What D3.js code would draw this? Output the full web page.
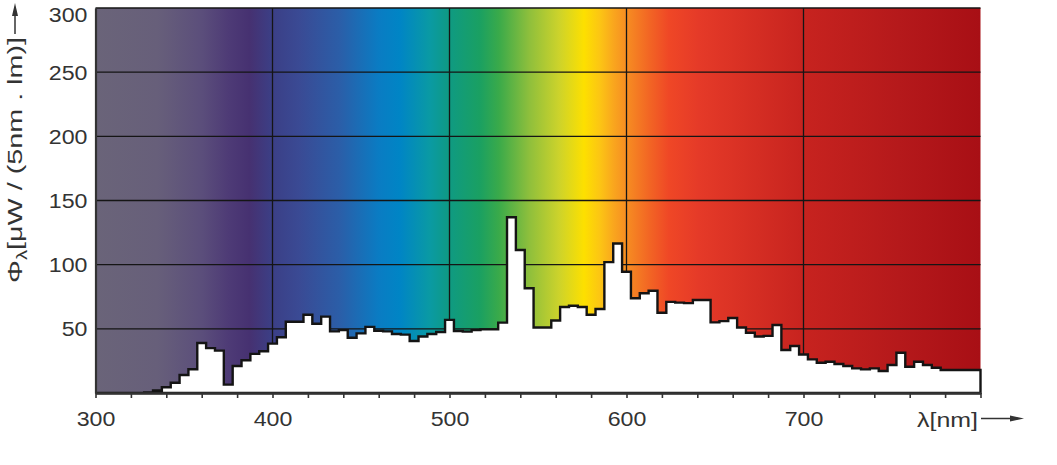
<!DOCTYPE html>
<html>
<head>
<meta charset="utf-8">
<script src="https://cdn.jsdelivr.net/npm/d3@7"></script>
<style>
  body { margin: 0; background: #fff; }
  svg { display: block; font-family: "Liberation Sans", Arial, sans-serif; }
</style>
</head>
<body>
<div id="chart-area"></div>
<script>
// Spectral power distribution, 5 nm bins (centre wavelength)
var wavelengths = [
  300, 305, 310, 315, 320, 325, 330, 335, 340, 345,
  350, 355, 360, 365, 370, 375, 380, 385, 390, 395,
  400, 405, 410, 415, 420, 425, 430, 435, 440, 445,
  450, 455, 460, 465, 470, 475, 480, 485, 490, 495,
  500, 505, 510, 515, 520, 525, 530, 535, 540, 545,
  550, 555, 560, 565, 570, 575, 580, 585, 590, 595,
  600, 605, 610, 615, 620, 625, 630, 635, 640, 645,
  650, 655, 660, 665, 670, 675, 680, 685, 690, 695,
  700, 705, 710, 715, 720, 725, 730, 735, 740, 745,
  750, 755, 760, 765, 770, 775, 780, 785, 790, 795,
  800
];
var power = [
  0, 0, 0, 0, 0, 0, 0.5, 2, 4.5, 8,
  14, 18.5, 39, 35, 33, 6.5, 21, 25.5, 30.5, 32.5,
  38.5, 43.5, 55.5, 55.5, 61, 54, 59.5, 48, 49, 43,
  46.5, 51.5, 48.5, 48, 46, 45.5, 40.5, 44, 46, 47.5,
  57, 48.3, 47.8, 49, 49.6, 49.6, 54.8, 137, 111.4, 81.6,
  51, 51, 56.5, 67, 68, 67, 61, 65.5, 102, 116.5,
  94.5, 73.8, 77.7, 79.7, 62.5, 71, 70.4, 70, 72.5, 72.5,
  55, 56, 58.5, 51, 47, 44, 44.5, 53, 33.5, 36.6,
  30, 26.2, 23.6, 24.4, 22.6, 21, 19.2, 18.4, 19.2, 17.1,
  21.8, 31.4, 20.5, 24.4, 21.8, 19.7, 17.9, 17.9, 17.9, 17.9,
  17.9
];
var xLabels = [300, 400, 500, 600, 700];
var xMinorTicks = [300, 320, 340, 360, 380, 400, 420, 440, 460, 480, 500, 520, 540,
  560, 580, 600, 620, 640, 660, 680, 700, 720, 740, 760, 780, 800];
var xGrid = [400, 500, 600, 700];
var yLabels = [50, 100, 150, 200, 250, 300];

// colours of the spectrum background
var stopNm = [300, 335, 360, 375, 387, 400, 415, 438, 460, 472, 489, 500, 517, 528, 545,
  562, 576, 585, 593, 600, 613, 624, 641, 700, 754, 800];
var stopColor = ['#6a6479', '#675f7a', '#5b4e7b', '#4e3b76', '#463171', '#3b3f86', '#3a4a94',
  '#2b5ea8', '#0a7cc3', '#0085c5', '#0a9aa3', '#0f9a82', '#1aa062', '#3aaa4a', '#8ebf3c',
  '#cdd32b', '#fde000', '#fcc514', '#f9a51e', '#f68d22', '#f26524', '#ef4726', '#e53a28',
  '#c7231f', '#b5191b', '#a80f15'];

var data = wavelengths.map(function(nm, i) { return {nm: nm, v: power[i]}; });

var margin = {top: 8, left: 95.5, right: 76.5, bottom: 72};
var width = 1057 - margin.left - margin.right;
var height = 465 - margin.top - margin.bottom;
var ink = '#333';

var root = d3.select('#chart-area')
  .append('svg')
    .attr('width', 1057)
    .attr('height', 465);

var svg = root.append('g')
    .attr('transform', 'translate(' + margin.left + ',' + margin.top + ')');

var x = d3.scaleLinear()
  .domain([300, 800])
  .range([0, width]);
var y = d3.scaleLinear()
  .domain([0, 300])
  .range([height, 0]);

// spectrum gradient
var grad = root.append('defs').append('linearGradient')
  .attr('id', 'spectrum')
  .attr('gradientUnits', 'userSpaceOnUse')
  .attr('x1', 0).attr('x2', width)
  .attr('y1', 0).attr('y2', 0);
stopNm.forEach(function(nm, i) {
  grad.append('stop')
    .attr('offset', x(nm) / width)
    .attr('stop-color', stopColor[i]);
});

svg.append('rect')
  .attr('width', width)
  .attr('height', height)
  .attr('fill', 'url(#spectrum)');

// grid
svg.selectAll('.hgrid').data(yLabels).enter().append('line')
  .attr('class', 'hgrid')
  .attr('x1', 0).attr('x2', width)
  .attr('y1', function(d) { return y(d); })
  .attr('y2', function(d) { return y(d); })
  .attr('stroke', '#151515')
  .attr('stroke-width', 1.3);
svg.selectAll('.vgrid').data(xGrid).enter().append('line')
  .attr('class', 'vgrid')
  .attr('x1', function(d) { return x(d); })
  .attr('x2', function(d) { return x(d); })
  .attr('y1', 0).attr('y2', height)
  .attr('stroke', '#151515')
  .attr('stroke-width', 1.3);

// white step area
var area = d3.area()
  .x(function(d) { return x(d.nm); })
  .y0(height)
  .y1(function(d) { return y(d.v); })
  .curve(d3.curveStep);

svg.append('path')
  .datum(data)
  .attr('d', area)
  .attr('fill', '#fff')
  .attr('stroke', '#141414')
  .attr('stroke-width', 2.4)
  .attr('stroke-linejoin', 'miter');

// x axis: minor ticks
var xTickAxis = d3.axisBottom(x)
  .tickValues(xMinorTicks)
  .tickSize(5)
  .tickSizeOuter(0)
  .tickFormat('');
var gx = svg.append('g')
  .attr('transform', 'translate(0,' + height + ')')
  .call(xTickAxis);
gx.select('.domain').attr('stroke', ink).attr('stroke-width', 2.5);
gx.selectAll('.tick line').attr('stroke', ink).attr('stroke-width', 1.6);

// x labels
var xLabelAxis = d3.axisBottom(x)
  .tickValues(xLabels)
  .tickSize(0)
  .tickSizeOuter(0);
var gxl = svg.append('g')
  .attr('transform', 'translate(0,' + height + ')')
  .call(xLabelAxis);
gxl.select('.domain').remove();
gxl.selectAll('text')
  .attr('y', 33)
  .attr('dy', 0)
  .attr('fill', ink)
  .attr('font-size', '20px')
  .attr('textLength', function(d) { return String(d).length * 12.9; })
  .attr('lengthAdjust', 'spacingAndGlyphs');

// y axis
var yAxisCall = d3.axisLeft(y)
  .tickValues(yLabels)
  .tickSize(0)
  .tickSizeOuter(0)
  .tickPadding(8);
var gy = svg.append('g').call(yAxisCall);
gy.select('.domain').attr('stroke', ink).attr('stroke-width', 2.2);
gy.selectAll('text')
  .attr('fill', ink)
  .attr('font-size', '20px')
  .attr('dy', function(d) { return d === 300 ? '0.66em' : '0.35em'; })
  .attr('textLength', function(d) { return String(d).length * 12.9; })
  .attr('lengthAdjust', 'spacingAndGlyphs');

// x title with arrow
root.append('text')
  .attr('x', 978)
  .attr('y', 427)
  .attr('text-anchor', 'end')
  .attr('fill', ink)
  .attr('font-size', '20px')
  .attr('textLength', 61)
  .attr('lengthAdjust', 'spacingAndGlyphs')
  .text('λ[nm]');
root.append('line')
  .attr('x1', 981).attr('x2', 1012)
  .attr('y1', 418.5).attr('y2', 418.5)
  .attr('stroke', ink)
  .attr('stroke-width', 1.5);
root.append('path')
  .attr('d', 'M1010,415.5 L1024,418.5 L1010,421.5 Z')
  .attr('fill', ink);

// y title with arrow
var yTitle = root.append('text')
  .attr('transform', 'translate(15,160) rotate(-90)')
  .attr('text-anchor', 'middle')
  .attr('dy', '0.35em')
  .attr('fill', ink)
  .attr('font-size', '20px')
  .attr('textLength', 246)
  .attr('lengthAdjust', 'spacingAndGlyphs');
yTitle.append('tspan').text('Φ');
yTitle.append('tspan')
  .attr('font-size', '14px')
  .attr('dy', '5')
  .text('λ');
yTitle.append('tspan')
  .attr('dy', '-5')
  .text('[μW / (5nm . lm)]');

root.append('line')
  .attr('x1', 15).attr('x2', 15)
  .attr('y1', 34).attr('y2', 14)
  .attr('stroke', ink)
  .attr('stroke-width', 1.5);
root.append('path')
  .attr('d', 'M12,16 L15,3 L18,16 Z')
  .attr('fill', ink);
</script>
</body>
</html>
